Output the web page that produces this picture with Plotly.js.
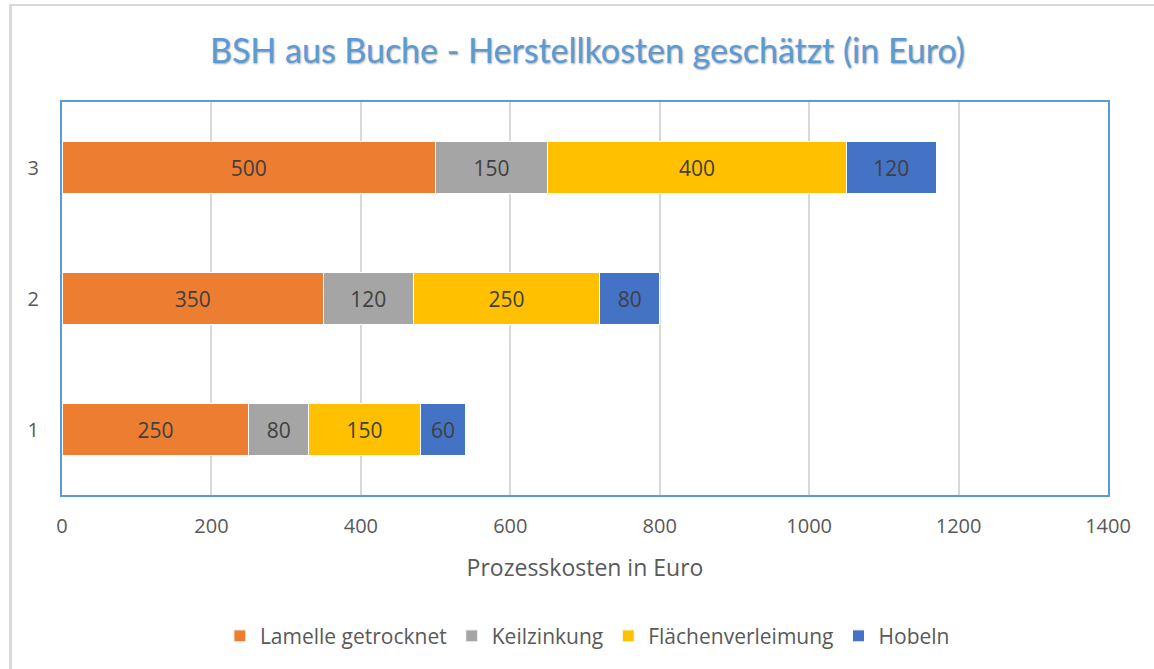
<!DOCTYPE html>
<html>
<head>
<meta charset="utf-8">
<script src="https://cdn.plot.ly/plotly-3.0.1.min.js"></script>
<style>
html,body{margin:0;padding:0;background:#fff;}
#chart{width:1154px;height:669px;position:absolute;left:0;top:0;}
#frame{position:absolute;left:9px;top:4px;width:1160px;height:700px;border-left:3px solid #d9d9d9;border-top:2px solid #d9d9d9;pointer-events:none;}
</style>
</head>
<body>
<div id="chart"></div>
<div id="frame"></div>
<script>
const categories = ['1', '2', '3'];
const seriesNames = ['Lamelle getrocknet', 'Keilzinkung', 'Flächenverleimung', 'Hobeln'];
const lamelle = [250, 350, 500];
const keilzinkung = [80, 120, 150];
const flaechen = [150, 250, 400];
const hobeln = [60, 80, 120];
const xTicks = [0, 200, 400, 600, 800, 1000, 1200, 1400];
const colors = ['#ED7D31', '#A5A5A5', '#FFC000', '#4472C4'];

const values = [lamelle, keilzinkung, flaechen, hobeln];
const traces = values.map((v, i) => ({
  type: 'bar',
  orientation: 'h',
  name: seriesNames[i],
  y: categories,
  x: v,
  text: v.map(String),
  texttemplate: '%{text}',
  textposition: 'inside',
  insidetextanchor: 'middle',
  constraintext: 'none',
  textangle: 0,
  textfont: {family: 'Open Sans, sans-serif', size: 21, color: '#404040'},
  marker: {color: colors[i], line: {color: '#ffffff', width: 1}},
  hoverinfo: 'x+name'
}));

const layout = {
  width: 1154,
  height: 669,
  margin: {l: 62, r: 46, t: 102, b: 174},
  paper_bgcolor: '#ffffff',
  plot_bgcolor: '#ffffff',
  barmode: 'stack',
  bargap: 0.6,
  title: {
    text: 'BSH aus Buche - Herstellkosten geschätzt (in Euro)',
    x: 0.509, xref: 'container', xanchor: 'center',
    y: 0.924, yref: 'container', yanchor: 'middle',
    font: {family: 'Lato, sans-serif', size: 34, color: '#5B9BD5', shadow: '1px 1px 2px rgba(0,0,0,0.35)'}
  },
  xaxis: {
    range: [0, 1400],
    tickvals: xTicks,
    ticktext: xTicks.map(String),
    showgrid: true,
    gridcolor: '#d9d9d9',
    gridwidth: 2,
    zeroline: false,
    showline: true,
    linecolor: '#5B9BD5',
    linewidth: 2,
    mirror: true,
    ticks: '',
    ticklabelstandoff: 12,
    tickfont: {family: 'Open Sans, sans-serif', size: 20, color: '#595959'},
    title: {text: 'Prozesskosten in Euro', standoff: 22, font: {family: 'Open Sans, sans-serif', size: 23, color: '#595959'}}
  },
  yaxis: {
    type: 'category',
    categoryorder: 'array',
    categoryarray: categories,
    range: [-0.5, 2.5],
    showgrid: false,
    zeroline: false,
    showline: true,
    linecolor: '#5B9BD5',
    linewidth: 2,
    mirror: true,
    ticks: '',
    ticklabelstandoff: 17,
    tickfont: {family: 'Open Sans, sans-serif', size: 20, color: '#595959'}
  },
  legend: {
    orientation: 'h',
    traceorder: 'normal',
    x: 0.509, xref: 'container', xanchor: 'center',
    y: 0.049, yref: 'container', yanchor: 'middle',
    font: {family: 'Open Sans, sans-serif', size: 21, color: '#595959'},
    itemwidth: 30
  },
  showlegend: true
};

Plotly.newPlot('chart', traces, layout, {displayModeBar: false, staticPlot: true});
</script>
</body>
</html>
